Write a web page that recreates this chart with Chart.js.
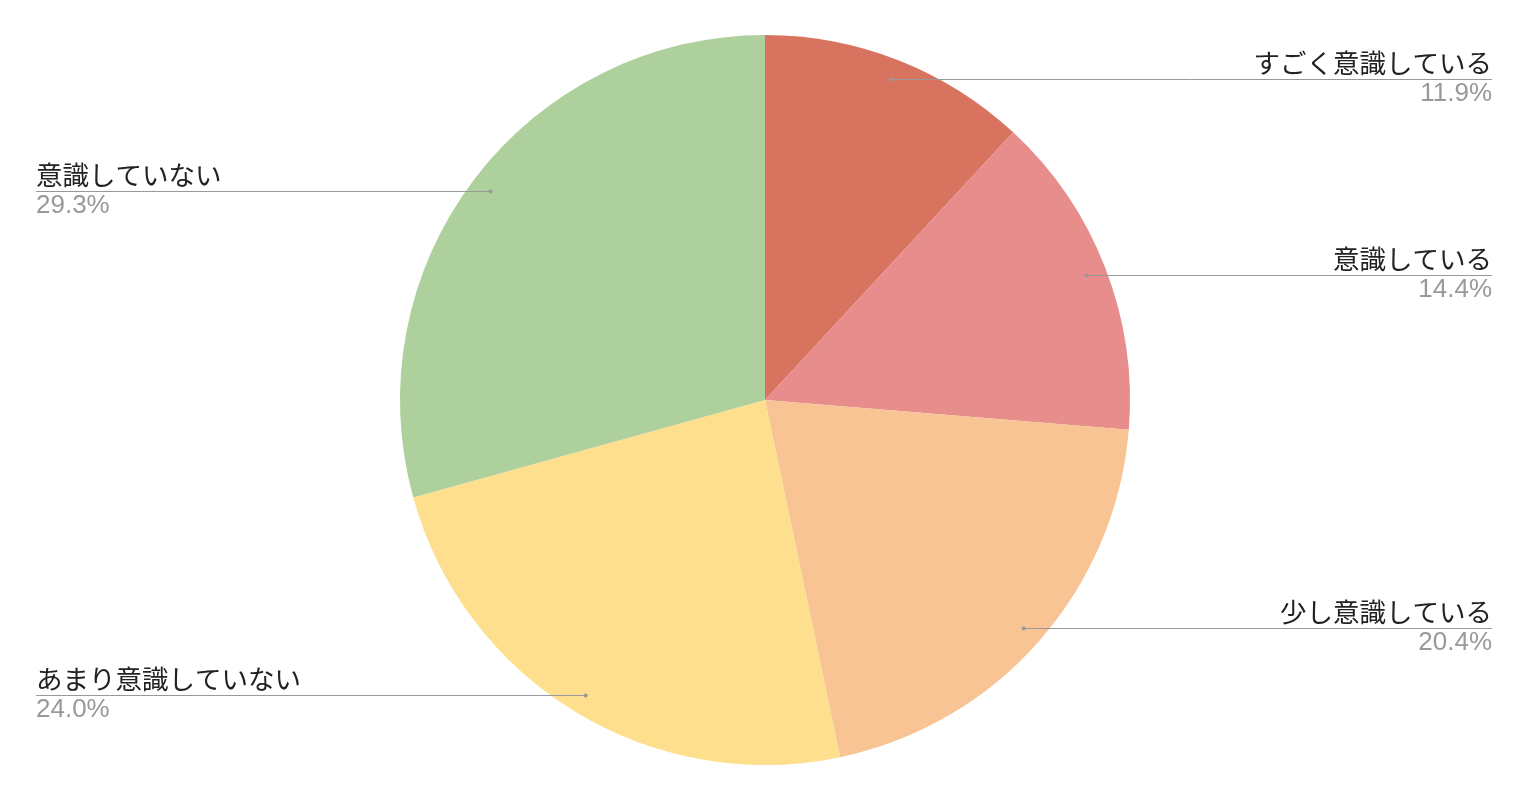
<!DOCTYPE html>
<html>
<head>
<meta charset="utf-8">
<script src="https://cdn.jsdelivr.net/npm/chart.js@4"></script>
<style>
  html, body { margin: 0; padding: 0; background: #fff; }
  #wrap { width: 1530px; height: 798px; }
</style>
</head>
<body>
<div id="wrap"><canvas id="pie"></canvas></div>
<script>
// --- DADOS ---
const labels = ['すごく意識している', '意識している', '少し意識している', 'あまり意識していない', '意識していない'];
const values = [11.9, 14.4, 20.4, 24.0, 29.3];
const sliceColors = ['#D8735F', '#E78D8C', '#F8C493', '#FDDF8D', '#ADD09D'];

const FONT = '"Liberation Sans", Arial, "Noto Sans CJK JP", sans-serif';

// leader lines + labels, desenhados por cima da pizza
const leaderLabels = {
    id: 'leaderLabels',
    afterDatasetsDraw(chart) {
        const ctx = chart.ctx;
        const meta = chart.getDatasetMeta(0);
        const total = values.reduce((s, v) => s + v, 0);
        ctx.save();
        meta.data.forEach((arc, i) => {
            const mid = (arc.startAngle + arc.endAngle) / 2;
            const r = arc.outerRadius * 0.945;
            const px = arc.x + Math.cos(mid) * r;
            const py = Math.round(arc.y + Math.sin(mid) * r) + 0.5;
            const right = Math.cos(mid) >= 0;
            const edge = right ? 1492 : 36;

            ctx.strokeStyle = '#999';
            ctx.lineWidth = 1;
            ctx.beginPath();
            ctx.moveTo(px, py);
            ctx.lineTo(edge, py);
            ctx.stroke();

            ctx.fillStyle = '#999';
            ctx.beginPath();
            ctx.arc(px, py, 2, 0, Math.PI * 2);
            ctx.fill();

            ctx.textAlign = right ? 'right' : 'left';
            ctx.font = '26.5px ' + FONT;
            ctx.fillStyle = '#222';
            ctx.textBaseline = 'alphabetic';
            ctx.fillText(labels[i], edge, py - 7);

            ctx.font = '26px ' + FONT;
            ctx.fillStyle = '#999';
            ctx.textBaseline = 'top';
            ctx.fillText((values[i] / total * 100).toFixed(1) + '%', edge, py + 1);
        });
        ctx.restore();
    }
};

new Chart(document.getElementById('pie'), {
    type: 'pie',
    data: {
        labels: labels,
        datasets: [{
            data: values,
            backgroundColor: sliceColors,
            borderWidth: 0
        }]
    },
    options: {
        responsive: true,
        maintainAspectRatio: false,
        animation: false,
        layout: { padding: { top: 35, bottom: 33 } },
        plugins: {
            legend: { display: false },
            tooltip: { enabled: false }
        }
    },
    plugins: [leaderLabels]
});
</script>
</body>
</html>
